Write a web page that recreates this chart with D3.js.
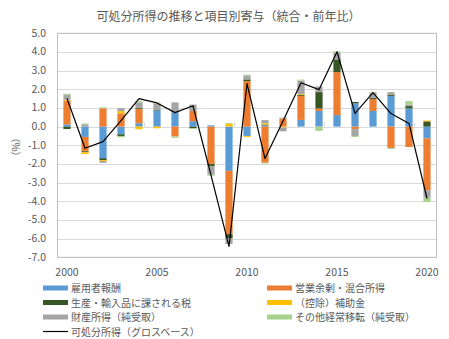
<!DOCTYPE html>
<html><head><meta charset="utf-8">
<script src="https://cdn.jsdelivr.net/npm/d3@7"></script>
<style>
html,body{margin:0;padding:0;background:#fff;}
svg{display:block;}
text{font-family:"Noto Sans CJK JP","Noto Sans",sans-serif;}
</style></head>
<body>
<svg id="c" width="449" height="339"></svg>
<script>
const years = [2000,2001,2002,2003,2004,2005,2006,2007,2008,2009,2010,2011,2012,2013,2014,2015,2016,2017,2018,2019,2020];
const compensation = [0.12,-0.55,-1.69,-0.41,0.18,0.87,0.77,0.29,0.07,-2.37,-0.50,0.07,0.00,0.36,0.84,0.62,1.25,0.84,1.64,0.98,-0.63];
const surplus      = [1.27,-0.77,0.98,0.71,0.78,0.00,-0.53,0.55,-2.01,-3.39,2.44,-1.93,0.44,1.28,0.14,2.30,-0.14,0.64,-1.14,-1.09,-2.78];
const taxes        = [-0.13,-0.05,-0.10,-0.09,0.04,0.05,0.00,-0.09,-0.12,-0.23,0.09,0.04,0.00,0.05,0.87,0.68,0.07,0.05,0.05,0.12,0.28];
const subsidies    = [0.05,-0.10,-0.05,0.12,-0.14,-0.09,0.00,0.00,0.00,0.16,-0.05,0.07,-0.05,0.05,0.00,0.00,0.00,0.00,0.00,0.00,0.05];
const property     = [0.25,0.12,-0.10,0.16,0.30,0.32,0.53,0.34,-0.45,-0.30,0.21,0.17,-0.20,0.73,0.30,0.36,-0.36,0.29,0.16,0.09,-0.39];
const transfers    = [0.07,0.05,0.05,-0.07,0.07,0.05,-0.07,-0.04,-0.05,0.04,0.05,-0.05,0.05,0.05,-0.23,0.07,-0.05,0.05,-0.05,0.18,-0.24];
const disposable   = [1.51,-1.16,-0.80,0.32,1.50,1.27,0.75,1.12,-2.60,-6.42,2.30,-1.71,0.30,2.35,1.98,4.01,0.71,1.82,0.70,0.17,-3.85];
const yTicks = [5,4,3,2,1,0,-1,-2,-3,-4,-5,-6,-7];
const xTickYears = [2000,2005,2010,2015,2020];
const seriesNames = ["雇用者報酬","営業余剰・混合所得","生産・輸入品に課される税","（控除）補助金","財産所得（純受取）","その他経常移転（純受取）"];
const lineName = "可処分所得（グロスベース）";
const title = "可処分所得の推移と項目別寄与（統合・前年比）";
const colors = ["#5B9BD5","#ED7D31","#375623","#FFC000","#A5A5A5","#A9D18E"];
const seriesValues = [compensation,surplus,taxes,subsidies,property,transfers];

const svg = d3.select("#c");
const L=57.5, R=436.5, T=33.3, B=257.3;
const x = d3.scaleBand().domain(years).range([58,436]).paddingInner(0.6).paddingOuter(0.3);
const y = d3.scaleLinear().domain([-7,5]).range([B,T]);
const grey = "#595959";

svg.append("text").attr("x",228.5).attr("y",21).attr("text-anchor","middle")
  .attr("font-size",12).attr("fill",grey).text(title);

// gridlines
svg.append("g").selectAll("line").data(yTicks).join("line")
  .attr("x1",L).attr("x2",R).attr("y1",d=>Math.round(y(d))+0.5).attr("y2",d=>Math.round(y(d))+0.5)
  .attr("stroke","#D9D9D9").attr("stroke-width",1);

// y labels
svg.append("g").selectAll("text").data(yTicks).join("text")
  .attr("x",46).attr("y",d=>y(d)+3.5).attr("text-anchor","end")
  .attr("font-family","Liberation Sans, Arial, sans-serif")
  .attr("font-size",10.5).attr("fill",grey).text(d=>d.toFixed(1));

svg.append("text").attr("transform","translate(20,147) rotate(-90)").attr("text-anchor","middle")
  .attr("font-size",10).attr("fill",grey).text("（%）");

// stacked bars
const rects=[];
years.forEach((yr,i)=>{
  let pos=0,neg=0;
  seriesValues.forEach((arr,s)=>{
    const v=arr[i];
    if(v===0) return;
    let a,b;
    if(v>0){a=pos;b=pos+v;pos=b;} else {a=neg;b=neg+v;neg=b;}
    rects.push({yr,s,y0:Math.min(a,b),y1:Math.max(a,b)});
  });
});
svg.append("g").selectAll("rect").data(rects).join("rect")
  .attr("x",d=>x(d.yr)).attr("width",x.bandwidth())
  .attr("y",d=>y(d.y1)).attr("height",d=>y(d.y0)-y(d.y1))
  .attr("fill",d=>colors[d.s]);

// zero-axis tick marks
const tickIdx=[5,10,15,20];
svg.append("g").selectAll("line").data(tickIdx).join("line")
  .attr("x1",d=>Math.round(x(years[0])-x.step()*0.3+ d*x.step()-x.step()*0.2)+0.5)
  .attr("x2",d=>Math.round(x(years[0])-x.step()*0.3+ d*x.step()-x.step()*0.2)+0.5)
  .attr("y1",y(0)-4).attr("y2",y(0)).attr("stroke","#D9D9D9");

// line
const line=d3.line().x((d,i)=>x(years[i])+x.bandwidth()/2).y(d=>y(d));
svg.append("path").attr("d",line(disposable)).attr("fill","none")
  .attr("stroke","#000").attr("stroke-width",1.2).attr("stroke-linejoin","round");

// plot border
svg.append("rect").attr("x",L).attr("y",T).attr("width",R-L).attr("height",B-T)
  .attr("fill","none").attr("stroke","#BFBFBF");

// x labels
svg.append("g").selectAll("text").data(xTickYears).join("text")
  .attr("x",d=>x(d)+x.bandwidth()/2).attr("y",276).attr("text-anchor","middle")
  .attr("font-family","Liberation Sans, Arial, sans-serif")
  .attr("font-size",10.5).attr("fill",grey).text(d=>d);

// legend
const legPos=[[43,288],[267,288],[43,302.5],[267,302.5],[43,317],[267,317]];
const lg=svg.append("g");
seriesNames.forEach((n,i)=>{
  const [lx,ly]=legPos[i];
  lg.append("rect").attr("x",lx).attr("y",ly-2.5).attr("width",25).attr("height",5).attr("fill",colors[i]);
  lg.append("text").attr("x",lx+28).attr("y",ly+4).attr("font-size",10).attr("fill",grey).text(n);
});
lg.append("line").attr("x1",43).attr("x2",68).attr("y1",331.5).attr("y2",331.5).attr("stroke","#000").attr("stroke-width",1.2);
lg.append("text").attr("x",71).attr("y",335.5).attr("font-size",10).attr("fill",grey).text(lineName);
</script>
</body></html>
